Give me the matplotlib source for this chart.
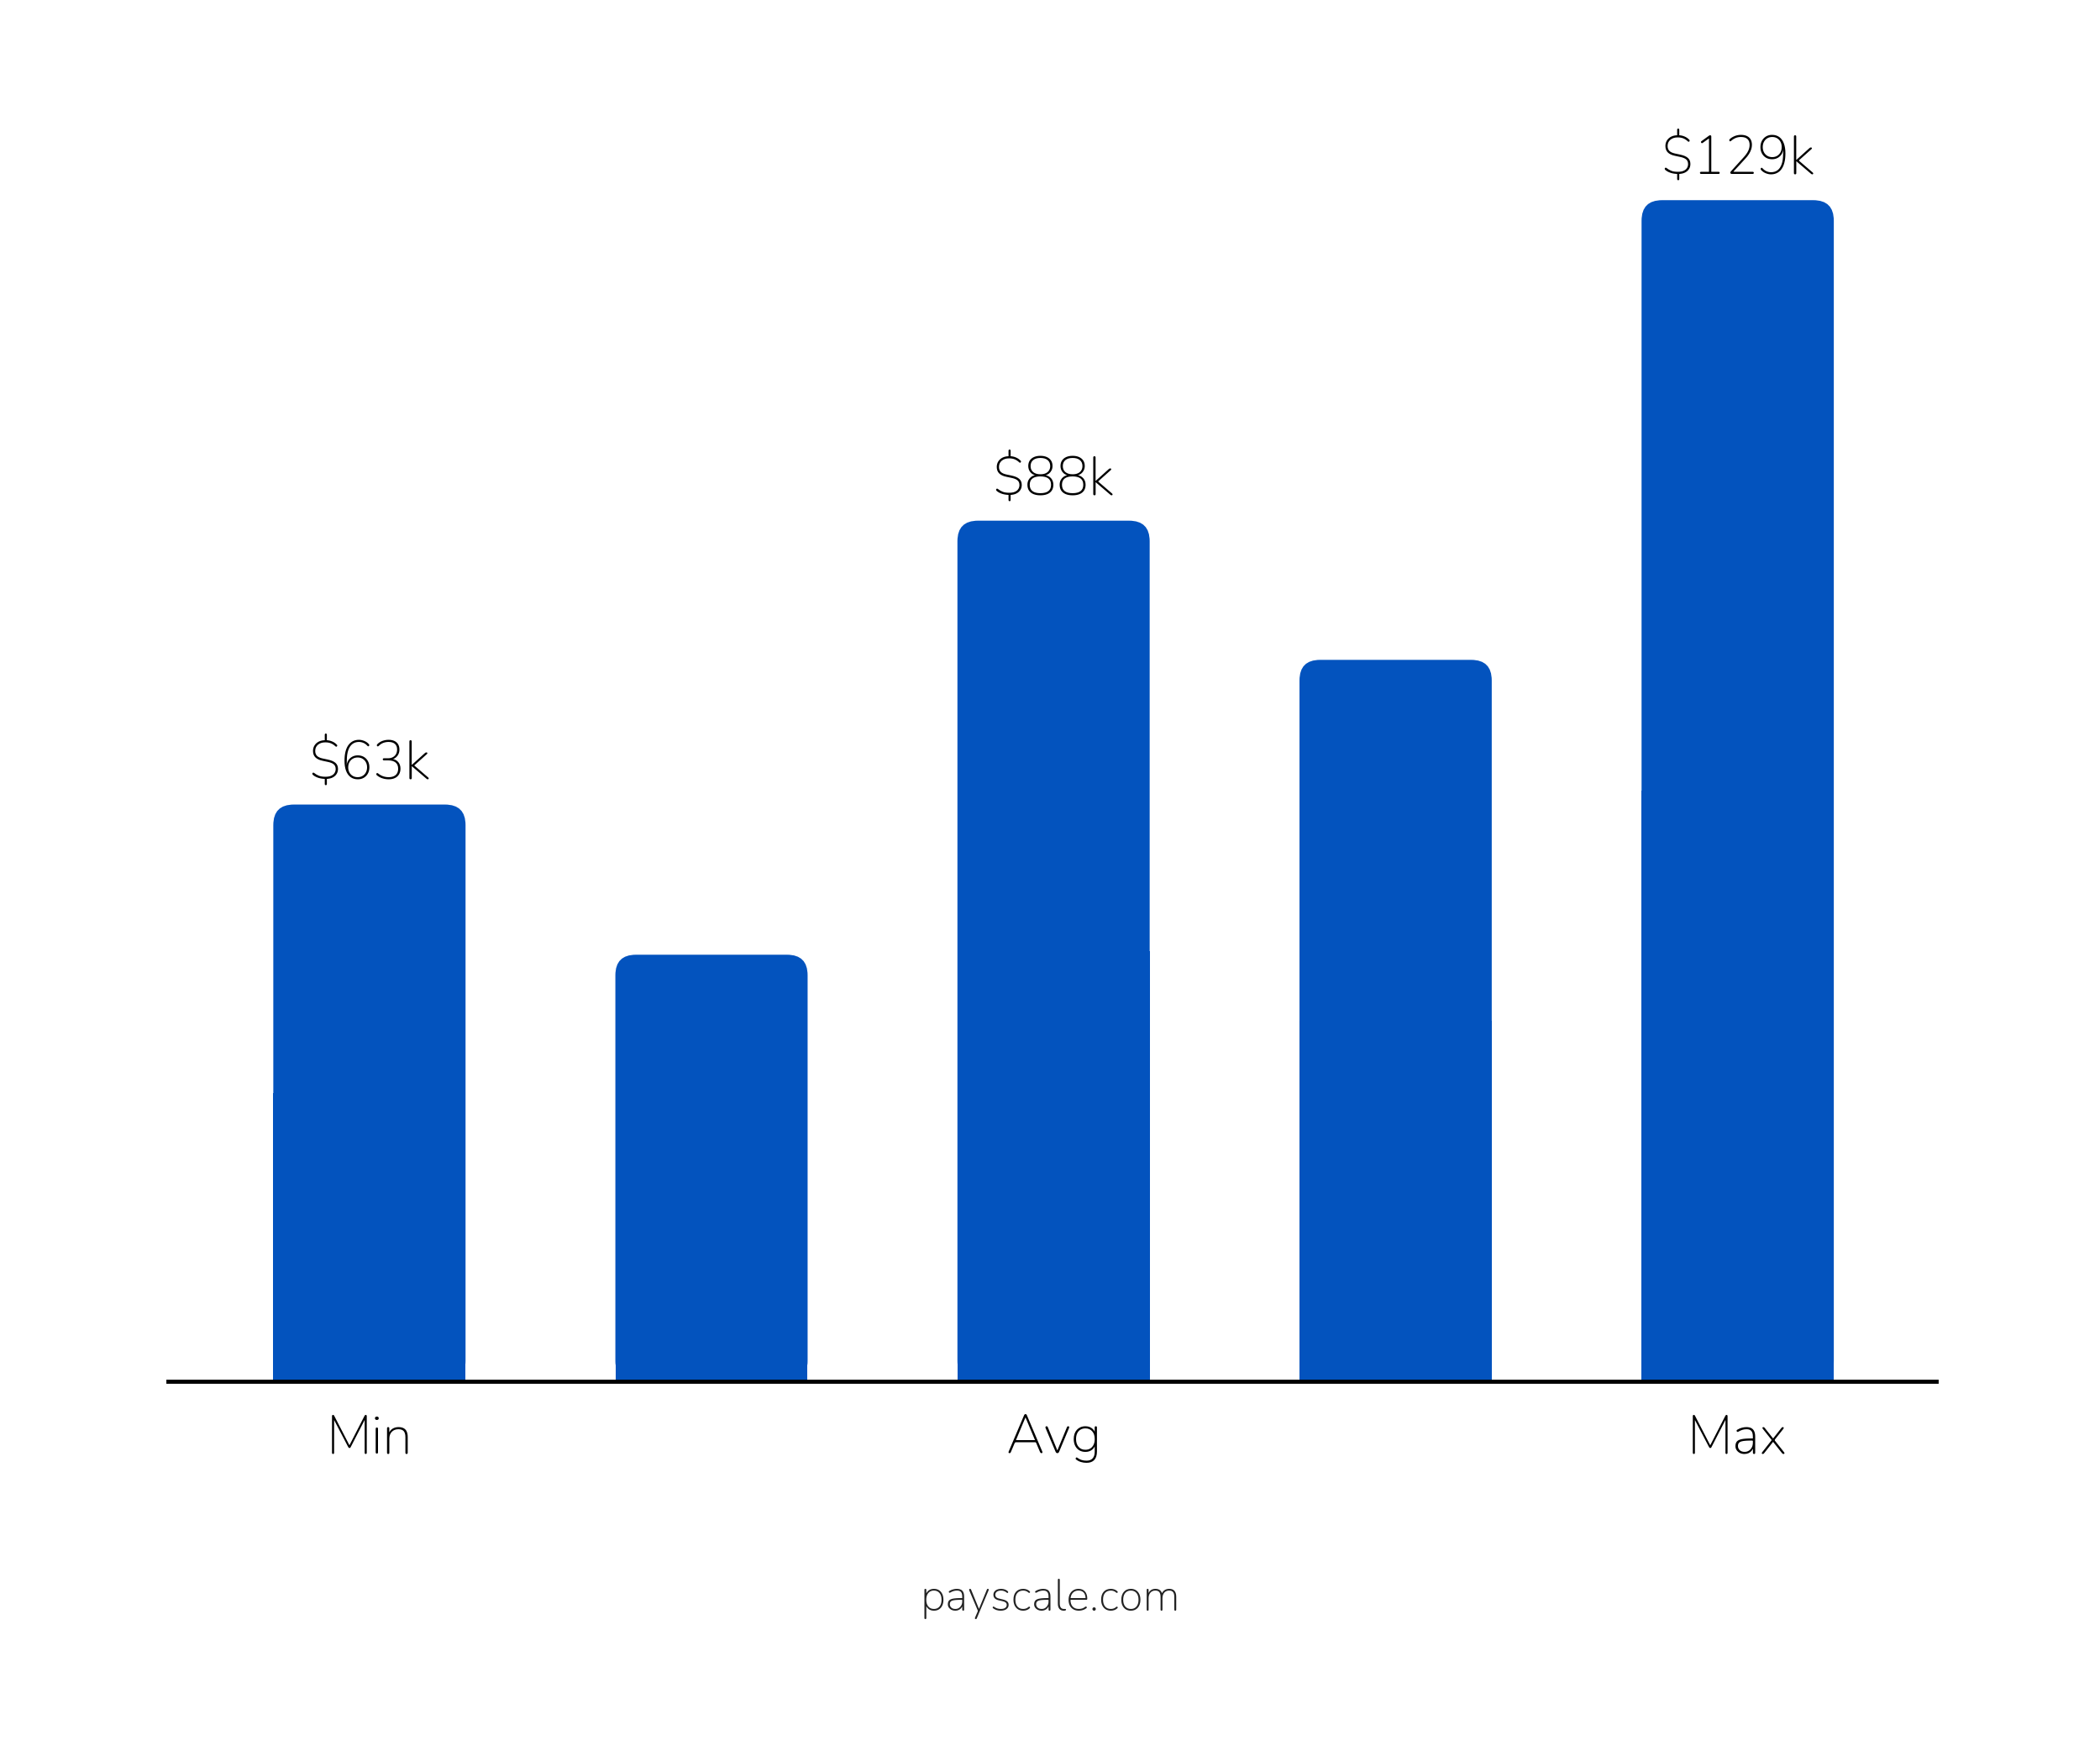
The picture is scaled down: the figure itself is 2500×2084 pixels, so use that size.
import matplotlib.pyplot as plt
from matplotlib.patches import FancyBboxPatch, Rectangle

plt.rcParams['font.family'] = ['Nunito', 'Noto Sans', 'DejaVu Sans']

positions = [0, 1, 2, 3, 4]
values = [63, 46.6, 94, 78.8, 129]
value_labels = ['$63k', '', '$88k', '', '$129k']
tick_labels = ['Min', '', 'Avg', '', 'Max']
bar_color = '#0353be'

fig = plt.figure(figsize=(25, 20.84), dpi=100)
ax = fig.add_axes([125 / 1563, 1 - 1028 / 1303, (1441 - 125) / 1563, 954 / 1303])
ax.set_xlim(-0.589, 4.58)
ax.set_ylim(0, 140)

w = 0.562
for x, v, lab in zip(positions, values, value_labels):
    ax.add_patch(FancyBboxPatch((x - w / 2, 0), w, v,
                                boxstyle="round,pad=0,rounding_size=0.06",
                                mutation_aspect=37.3, fc=bar_color, ec='none'))
    ax.add_patch(Rectangle((x - w / 2, 0), w, v / 2, fc=bar_color, ec='none'))
    if lab:
        ax.annotate(lab, (x, v), xytext=(0, 14), textcoords='offset points',
                    ha='center', va='bottom', fontsize=46, fontweight='bold')

for s in ['top', 'right', 'left']:
    ax.spines[s].set_visible(False)
ax.spines['bottom'].set_linewidth(3.5)
ax.set_yticks([])
ax.set_xticks(positions)
ax.set_xticklabels(tick_labels, fontsize=46, fontweight='bold')
ax.tick_params(axis='x', length=0, pad=28)

fig.text(0.5, 1 - 1190 / 1303, 'payscale.com', ha='center', va='center', fontsize=38, color='#222222')

fig.savefig('out.png')
